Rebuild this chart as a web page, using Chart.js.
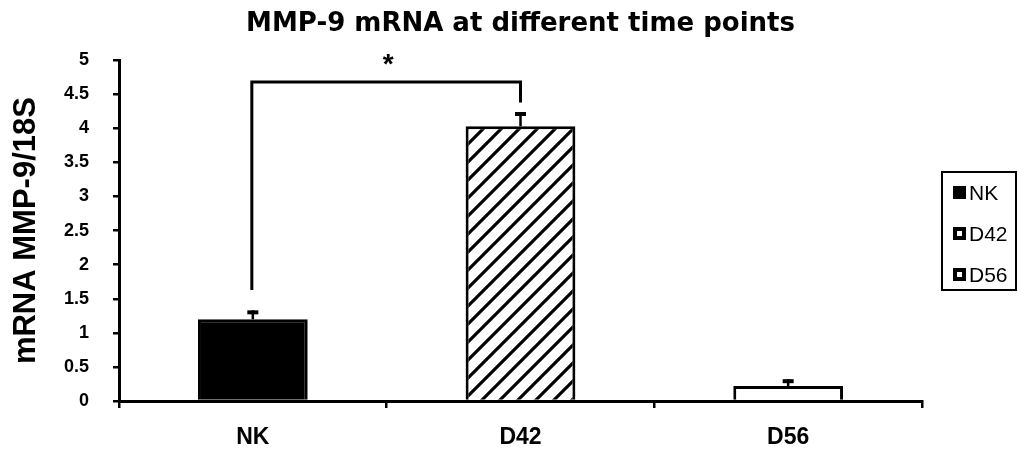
<!DOCTYPE html>
<html><head><meta charset="utf-8">
<script src="https://cdn.jsdelivr.net/npm/chart.js@4"></script>
<style>html,body{margin:0;padding:0;background:#fff}#wrap{width:1017px;height:454px;position:relative}</style>
</head><body><div id="wrap"><canvas id="c" width="1017" height="454"></canvas></div>
<script>
// ---- data ----
const categories = ['NK', 'D42', 'D56'];
const meanValues = [1.20, 4.03, 0.22];
const errorValues = [0.13, 0.21, 0.10];
const yTickValues = [0, 0.5, 1, 1.5, 2, 2.5, 3, 3.5, 4, 4.5, 5];
const sigPair = [0, 1];            // compared categories
const sigLevels = [1.63, 4.68, 4.38]; // left leg end, bracket top, right leg end
const sigLabel = '*';
const chartTitle = 'MMP-9 mRNA at different time points';
const yTitle = 'mRNA MMP-9/18S';

function hatchPattern() {
  const s = 18;
  const p = document.createElement('canvas');
  p.width = s; p.height = s;
  const g = p.getContext('2d');
  g.fillStyle = '#fff'; g.fillRect(0, 0, s, s);
  g.strokeStyle = '#000'; g.lineWidth = 3.2;
  g.beginPath();
  g.moveTo(-2, s + 2); g.lineTo(s + 2, -2);
  g.moveTo(-s / 2 - 2, s / 2 + 2); g.lineTo(s / 2 + 2, -s / 2 - 2);
  g.moveTo(s / 2 - 2, s * 1.5 + 2); g.lineTo(s * 1.5 + 2, s / 2 - 2);
  g.stroke();
  return g.createPattern(p, 'repeat');
}
const fills = ['#000', hatchPattern(), '#fff'];

const overlay = {
  id: 'overlay',
  afterDatasetsDraw(chart) {
    const ctx = chart.ctx, ys = chart.scales.y, meta = chart.getDatasetMeta(0);
    ctx.save();
    ctx.fillStyle = '#000';
    meanValues.forEach((v, i) => {
      const x = meta.data[i].x;
      const yTop = ys.getPixelForValue(v + errorValues[i]);
      const yBar = ys.getPixelForValue(v);
      ctx.fillRect(x - 1.25, yTop, 2.5, yBar - yTop);
      ctx.fillRect(x - 5.5, yTop, 11, 4);
    });
    // significance bracket
    const x0 = meta.data[sigPair[0]].x - 1, x1 = meta.data[sigPair[1]].x;
    const yL = ys.getPixelForValue(sigLevels[0]);
    const yT = ys.getPixelForValue(sigLevels[1]);
    const yR = ys.getPixelForValue(sigLevels[2]);
    ctx.strokeStyle = '#000'; ctx.lineWidth = 3; ctx.lineJoin = 'miter';
    ctx.beginPath();
    ctx.moveTo(x0, yL); ctx.lineTo(x0, yT); ctx.lineTo(x1, yT); ctx.lineTo(x1, yR);
    ctx.stroke();
    ctx.font = 'bold 28px "Liberation Sans", Arial, sans-serif';
    ctx.textAlign = 'center'; ctx.textBaseline = 'alphabetic';
    ctx.fillText(sigLabel, (x0 + x1) / 2 + 2, yT - 9);
    ctx.restore();
  },
  afterDraw(chart) {
    const ctx = chart.ctx, ca = chart.chartArea;
    const lx = ca.right + 20, ly = 172, lw = 74, lh = 118;
    ctx.save();
    ctx.strokeStyle = '#000'; ctx.lineWidth = 2;
    ctx.strokeRect(lx, ly, lw, lh);
    ctx.font = '21px "Liberation Sans", Arial, sans-serif';
    ctx.textAlign = 'left'; ctx.textBaseline = 'middle';
    categories.forEach((c, i) => {
      const cy = 193 + i * 41;
      const mx = lx + 11;
      ctx.fillStyle = '#000';
      ctx.fillRect(mx, cy - 7, 13, 13);
      if (i > 0) { ctx.fillStyle = '#fff'; ctx.fillRect(mx + 4, cy - 3, 5, 5); }
      ctx.fillStyle = '#000';
      ctx.fillText(c, mx + 16, cy + 1);
    });
    ctx.restore();
  }
};

Chart.defaults.color = '#000';
new Chart(document.getElementById('c'), {
  type: 'bar',
  data: {
    labels: categories,
    datasets: [{
      data: meanValues,
      backgroundColor: fills,
      borderColor: '#000',
      borderWidth: 3,
      barPercentage: 0.41,
      categoryPercentage: 1
    }]
  },
  options: {
    responsive: false,
    devicePixelRatio: 1,
    animation: false,
    layout: { padding: { left: 0, right: 95, top: 0, bottom: 0 } },
    plugins: {
      legend: { display: false },
      tooltip: { enabled: false },
      title: {
        display: true, text: chartTitle, fullSize: false, color: '#000',
        font: { family: 'DejaVu Sans', weight: 'bold', size: 26 },
        padding: { top: 9, bottom: 20 }
      }
    },
    scales: {
      x: {
        grid: { display: true, drawOnChartArea: false, drawTicks: true, tickLength: 7, color: '#000', lineWidth: 2.5, offset: true },
        border: { display: true, color: '#000', width: 3 },
        ticks: { color: '#000', padding: 16, font: { family: 'Liberation Sans', weight: 'bold', size: 23 } },
        afterFit(s) { s.height = 53; }
      },
      y: {
        min: 0, max: 5,
        afterBuildTicks(s) { s.ticks = yTickValues.map(v => ({ value: v })); },
        grid: { drawOnChartArea: false, tickLength: 6, color: '#000', lineWidth: 2.5 },
        border: { display: true, color: '#000', width: 3 },
        ticks: { color: '#000', padding: 24, font: { family: 'Liberation Sans', weight: 'bold', size: 18 }, callback: v => String(v) },
        title: { display: true, text: yTitle, color: '#000', font: { family: 'Liberation Sans', weight: 'bold', size: 31 }, padding: { top: 8, bottom: 0 } },
        afterFit(s) { s.width = 119; }
      }
    }
  },
  plugins: [overlay]
});
</script>
</body></html>
